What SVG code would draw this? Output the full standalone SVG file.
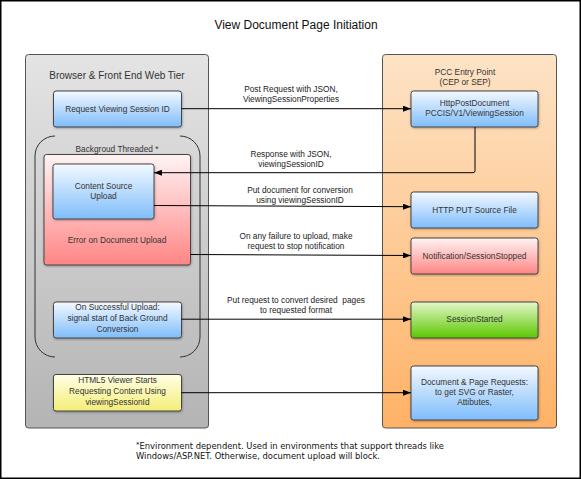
<svg xmlns="http://www.w3.org/2000/svg" width="581" height="479" viewBox="0 0 581 479">
<defs>
<linearGradient id="gGray" x1="0" y1="0" x2="0" y2="1"><stop offset="0" stop-color="#e4e4e4"/><stop offset="1" stop-color="#b4b4b4"/></linearGradient>
<linearGradient id="gOrange" x1="0" y1="0" x2="0" y2="1"><stop offset="0" stop-color="#fde3c6"/><stop offset="1" stop-color="#ffb266"/></linearGradient>
<linearGradient id="gBlue" x1="0" y1="0" x2="0" y2="1"><stop offset="0" stop-color="#f4f9ff"/><stop offset="1" stop-color="#7fbdfb"/></linearGradient>
<linearGradient id="gRed" x1="0" y1="0" x2="0" y2="1"><stop offset="0" stop-color="#fff4f4"/><stop offset="1" stop-color="#ff8585"/></linearGradient>
<linearGradient id="gGreen" x1="0" y1="0" x2="0" y2="1"><stop offset="0" stop-color="#e4f7cc"/><stop offset="1" stop-color="#5cc800"/></linearGradient>
<linearGradient id="gYellow" x1="0" y1="0" x2="0" y2="1"><stop offset="0" stop-color="#ffffe6"/><stop offset="1" stop-color="#f4ee78"/></linearGradient>
<filter id="sh" x="-10%" y="-10%" width="130%" height="140%"><feDropShadow dx="0.5" dy="1" stdDeviation="0.8" flood-color="#000" flood-opacity="0.3"/></filter>
<marker id="ah" markerWidth="8" markerHeight="6" refX="8" refY="3" orient="auto" markerUnits="userSpaceOnUse"><path d="M0,0 L8,3 L0,6 z" fill="#000"/></marker>
</defs>
<style>
text{font-family:"Liberation Sans",Arial,sans-serif;fill:#333;text-anchor:middle}
.t{font-size:8.3px}
.lbl{font-size:8.3px;fill:#222}
.box{stroke:#444;stroke-width:1;filter:url(#sh)}
.panel{stroke:#555;stroke-width:1}
.conn{fill:none;stroke:#000;stroke-width:1}
.fn{font-family:"DejaVu Sans",Verdana,sans-serif;font-size:8.4px;text-anchor:start;fill:#111}
</style>
<rect x="0.75" y="0.75" width="579.5" height="477.5" fill="#fff" stroke="#000" stroke-width="1.5"/>
<text x="296" y="29" style="font-size:12px;fill:#111">View Document Page Initiation</text>

<g id="panel-browser">
<rect class="panel" x="25.5" y="54.5" width="183" height="373.5" rx="3" fill="url(#gGray)"/>
<text x="117" y="79" style="font-size:10px">Browser &amp; Front End Web Tier</text>
</g>
<g id="panel-pcc">
<rect class="panel" x="382.5" y="54.5" width="174" height="373.5" rx="3" fill="url(#gOrange)"/>
<text x="465" y="74.5" class="t">PCC Entry Point</text>
<text x="465" y="84.5" class="t">(CEP or SEP)</text>
</g>

<g id="background-threaded">
<path d="M55,136 A20,20 0 0 0 35,156 V337 A20,20 0 0 0 55,357" fill="none" stroke="#333" stroke-width="1"/>
<path d="M180,136 A20,20 0 0 1 200,156 V337 A20,20 0 0 1 180,357" fill="none" stroke="#333" stroke-width="1"/>
<text x="117" y="152" class="t">Backgroud Threaded *</text>
</g>

<g id="node-request">
<rect class="box" x="53.5" y="91" width="128" height="36" rx="2.5" fill="url(#gBlue)"/>
<text x="117.5" y="112" class="t">Request Viewing Session ID</text>
</g>
<g id="node-error">
<rect class="box" x="44" y="154.5" width="146.5" height="110.5" rx="2.5" fill="url(#gRed)"/>
<text x="117" y="243" class="t">Error on Document Upload</text>
</g>
<g id="node-content">
<rect class="box" x="53" y="164" width="101" height="55" rx="2.5" fill="url(#gBlue)"/>
<text x="103.5" y="188.5" class="t">Content Source</text>
<text x="103.5" y="198.5" class="t">Upload</text>
</g>
<g id="node-success">
<rect class="box" x="53.5" y="302" width="128" height="36" rx="2.5" fill="url(#gBlue)"/>
<text x="117.5" y="309.5" class="t">On Successful Upload:</text>
<text x="117.5" y="320.5" class="t">signal start of Back Ground</text>
<text x="117.5" y="331.5" class="t">Conversion</text>
</g>
<g id="node-html5">
<rect class="box" x="53.5" y="374.5" width="128" height="36.5" rx="2.5" fill="url(#gYellow)"/>
<text x="117.5" y="382.5" class="t">HTML5 Viewer Starts</text>
<text x="117.5" y="393.5" class="t">Requesting Content Using</text>
<text x="117.5" y="404.5" class="t">viewingSessionId</text>
</g>

<g id="node-httppost">
<rect class="box" x="411" y="91" width="127" height="36" rx="2.5" fill="url(#gBlue)"/>
<text x="474.5" y="106" class="t">HttpPostDocument</text>
<text x="474.5" y="116" class="t">PCCIS/V1/ViewingSession</text>
</g>
<g id="node-put">
<rect class="box" x="411" y="192" width="127" height="36" rx="2.5" fill="url(#gBlue)"/>
<text x="474.5" y="212.5" class="t">HTTP PUT Source File</text>
</g>
<g id="node-notification">
<rect class="box" x="411" y="238" width="127" height="36" rx="2.5" fill="url(#gRed)"/>
<text x="474.5" y="258.5" class="t">Notification/SessionStopped</text>
</g>
<g id="node-started">
<rect class="box" x="411" y="302" width="127" height="36" rx="2.5" fill="url(#gGreen)"/>
<text x="474.5" y="322" class="t">SessionStarted</text>
</g>
<g id="node-docreq">
<rect class="box" x="411" y="366" width="127" height="54" rx="2.5" fill="url(#gBlue)"/>
<text x="474.5" y="384.5" class="t">Document &amp; Page Requests:</text>
<text x="474.5" y="394.5" class="t">to get SVG or Raster,</text>
<text x="474.5" y="404.5" class="t">Attibutes,</text>
</g>

<g id="connectors">
<path class="conn" d="M181.5,108.7 H411" marker-end="url(#ah)"/>
<path class="conn" d="M475,127 V170.7 Q475,172.7 473,172.7 H154" marker-end="url(#ah)"/>
<path class="conn" d="M154,205.5 L411,206.7" marker-end="url(#ah)"/>
<path class="conn" d="M190.5,254.5 L411,255.5" marker-end="url(#ah)"/>
<path class="conn" d="M181.5,319.2 H411" marker-end="url(#ah)"/>
<path class="conn" d="M181.5,392.7 H411" marker-end="url(#ah)"/>
<text x="291" y="92" class="lbl">Post Request with JSON,</text>
<text x="291" y="102" class="lbl">ViewingSessionProperties</text>
<text x="291" y="157" class="lbl">Response with JSON,</text>
<text x="291" y="166.5" class="lbl">viewingSessionID</text>
<text x="300" y="193" class="lbl">Put document for conversion</text>
<text x="300" y="203" class="lbl">using viewingSessionID</text>
<text x="296" y="238.5" class="lbl">On any failure to upload, make</text>
<text x="296" y="248.5" class="lbl">request to stop notification</text>
<text x="296" y="303" class="lbl" xml:space="preserve">Put request to convert desired  pages</text>
<text x="296" y="312.5" class="lbl">to requested format</text>
</g>

<g id="footnote">
<text x="136" y="448.5" class="fn"><tspan font-size="7" dy="-1.5">*</tspan><tspan dy="1.5">Environment dependent. Used in environments that support threads like</tspan></text>
<text x="136" y="459" class="fn">Windows/ASP.NET. Otherwise, document upload will block.</text>
</g>
</svg>
